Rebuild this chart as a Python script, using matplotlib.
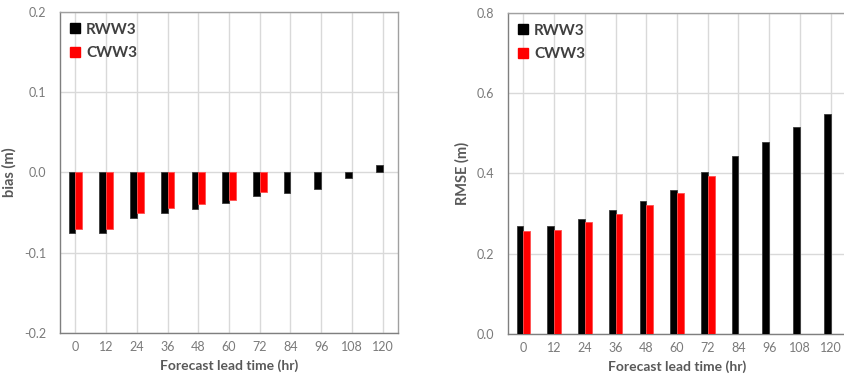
import numpy as np
import matplotlib
matplotlib.use("Agg")
import matplotlib.pyplot as plt
from matplotlib.lines import Line2D

plt.rcParams['font.family'] = ['Lato', 'DejaVu Sans']

lead_times = ['0', '12', '24', '36', '48', '60', '72', '84', '96', '108', '120']
bias_rww3 = [-0.075, -0.076, -0.057, -0.050, -0.045, -0.038, -0.029, -0.025, -0.020, -0.0065, 0.009]
bias_cww3 = [-0.070, -0.070, -0.050, -0.044, -0.039, -0.034, -0.024]
rmse_rww3 = [0.270, 0.270, 0.287, 0.309, 0.332, 0.359, 0.403, 0.444, 0.478, 0.516, 0.549]
rmse_cww3 = [0.257, 0.258, 0.279, 0.300, 0.322, 0.352, 0.394]

tick_col = '#7a7a7a'
label_col = '#595959'
grid_col = '#d9d9d9'
bw = 0.22

fig = plt.figure(figsize=(8.44, 3.82), dpi=100)
ax1 = fig.add_axes([0.0711, 0.1283, 0.4005, 0.8403])
ax2 = fig.add_axes([0.6019, 0.1257, 0.4005, 0.8403])


def draw(ax, rww, cww, ylim, yticks, fmt, ylabel):
    x = np.arange(len(lead_times))
    ax.bar(x[:len(rww)] - bw / 2, rww, bw, color='black', edgecolor='#3a3a3a', linewidth=0.6, zorder=3)
    ax.bar(x[:len(cww)] + bw / 2, cww, bw, color='#ff0000', edgecolor='#ff5050', linewidth=0.6, zorder=3)
    ax.set_xlim(-0.5, len(lead_times) - 0.5)
    ax.set_ylim(*ylim)
    ax.set_xticks(x)
    ax.set_xticklabels(lead_times)
    ax.set_yticks(yticks)
    ax.set_yticklabels([fmt % v for v in yticks])
    ax.grid(True, color=grid_col, linewidth=1.0, zorder=0)
    ax.set_axisbelow(True)
    ax.tick_params(length=0, labelsize=9, colors=tick_col)
    ax.tick_params(axis='y', pad=10)
    ax.tick_params(axis='x', pad=6)
    for s in ['left', 'bottom']:
        ax.spines[s].set_color('#7f7f7f')
        ax.spines[s].set_linewidth(1.0)
    for s in ['top', 'right']:
        ax.spines[s].set_color('#a0a0a0')
        ax.spines[s].set_linewidth(1.0)
    ax.set_xlabel('Forecast lead time (hr)', fontsize=10, fontweight='bold', color=label_col, labelpad=4)
    ax.set_ylabel(ylabel, fontsize=10.5, fontweight='bold', color=label_col, labelpad=5)
    handles = [Line2D([], [], marker='s', linestyle='none', markersize=6.5, color='black'),
               Line2D([], [], marker='s', linestyle='none', markersize=6.5, color='#ff0000')]
    leg = ax.legend(handles, ['RWW3', 'CWW3'], loc='upper left', frameon=False,
                    handlelength=0.6, handletextpad=0.4, labelspacing=0.6,
                    borderaxespad=0.3, prop={'weight': 'bold', 'size': 11})
    for t in leg.get_texts():
        t.set_color('#404040')


draw(ax1, bias_rww3, bias_cww3, (-0.2, 0.2), [-0.2, -0.1, 0.0, 0.1, 0.2], '%.1f', 'bias (m)')
draw(ax2, rmse_rww3, rmse_cww3, (0.0, 0.8), [0.0, 0.2, 0.4, 0.6, 0.8], '%.1f', 'RMSE (m)')

fig.savefig('out.png', dpi=100)
